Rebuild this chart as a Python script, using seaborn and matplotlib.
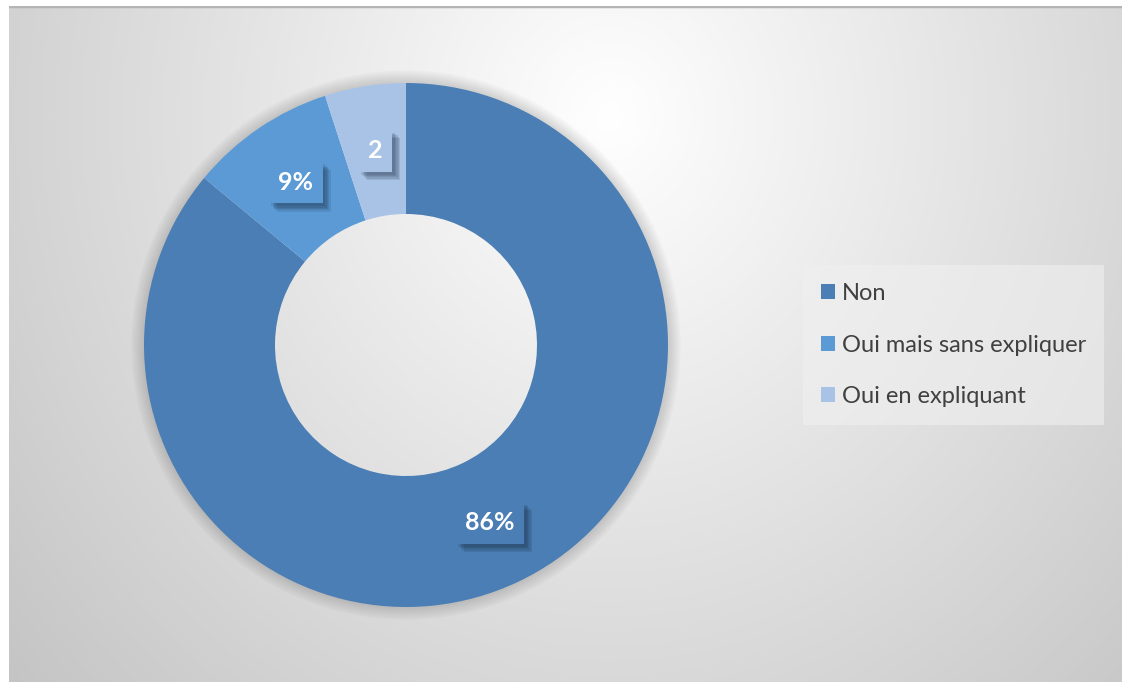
# Donut chart - "Non / Oui mais sans expliquer / Oui en expliquant"

import numpy as np
import matplotlib
matplotlib.use("Agg")
import matplotlib.pyplot as plt
import matplotlib.patheffects as pe
import seaborn as sns

# -- Data ----------------------------------------------------------------------
categories = ['Non', 'Oui mais sans expliquer', 'Oui en expliquant']
values = [86, 9, 5]
value_labels = ['86%', '9%', '2']
colors = ['#4a7eb4', '#5b9ad4', '#a9c3e6']

sns.set_style('white')
plt.rcParams['font.family'] = ['Lato', 'DejaVu Sans']

W, H = 1122, 682
fig = plt.figure(figsize=(W / 100, H / 100), dpi=100)
fig.patch.set_facecolor('white')

# -- Background: soft radial gradient, white near top centre -> grey at edges ---
bw, bh = W - 9, H - 6
ax_bg = fig.add_axes([9 / W, 0, bw / W, bh / H])
yy, xx = np.mgrid[0:bh, 0:bw]
drop = np.sqrt((0.074 * (xx - 600)) ** 2 + (0.068 * (yy - 110)) ** 2)
shade = np.clip(255 - drop, 194, 255) / 255
ax_bg.imshow(np.dstack([shade] * 3), aspect='auto', interpolation='bilinear')
ax_bg.axhline(-0.5, color='#b4b4b4', lw=2.5)
ax_bg.set_xlim(-0.5, bw - 0.5)
ax_bg.set_ylim(bh - 0.5, -0.5)
ax_bg.axis('off')

# -- Donut -----------------------------------------------------------------------
cx, cy, r = 406, 345, 262
ax = fig.add_axes([(cx - r) / W, (H - cy - r) / H, 2 * r / W, 2 * r / H])

# soft outer shadow
for k in range(6):
    ax.pie([1], radius=1 + 0.008 * (k + 1), colors=['black'],
           wedgeprops=dict(width=0.06, linewidth=0, alpha=0.025))

wedges, _ = ax.pie(values, colors=colors, startangle=90, counterclock=False,
                   radius=1, wedgeprops=dict(width=0.5, linewidth=0))
ax.set_xlim(-1, 1)
ax.set_ylim(-1, 1)
ax.set_aspect('equal')
ax.axis('off')

# value labels in boxes at mid ring
for w, lab, col in zip(wedges, value_labels, colors):
    ang = np.deg2rad((w.theta1 + w.theta2) / 2)
    x, y = 0.75 * np.cos(ang), 0.75 * np.sin(ang)
    t = ax.text(x, y, lab, ha='center', va='center', color='white',
                fontsize=18, fontweight='bold',
                bbox=dict(boxstyle='square,pad=0.38', facecolor=col, edgecolor='none'))
    t.get_bbox_patch().set_path_effects(
        [pe.SimplePatchShadow(offset=(o, -o), shadow_rgbFace='#1a2a40', alpha=0.12)
         for o in (2, 3, 4, 5, 6)] + [pe.Normal()])

# -- Legend ------------------------------------------------------------------------
leg = fig.legend(wedges, categories, loc='center left',
                 bbox_to_anchor=(803 / W, 1 - 345 / H),
                 frameon=True, fancybox=False, fontsize=17,
                 handlelength=0.6, handleheight=0.6, handletextpad=0.3,
                 labelspacing=1.3, borderpad=0.75, borderaxespad=0)
leg.get_frame().set_facecolor('#f0f0f0')
leg.get_frame().set_alpha(0.6)
leg.get_frame().set_edgecolor('none')
for txt in leg.get_texts():
    txt.set_color('#404040')

fig.savefig('out.png', dpi=100)
